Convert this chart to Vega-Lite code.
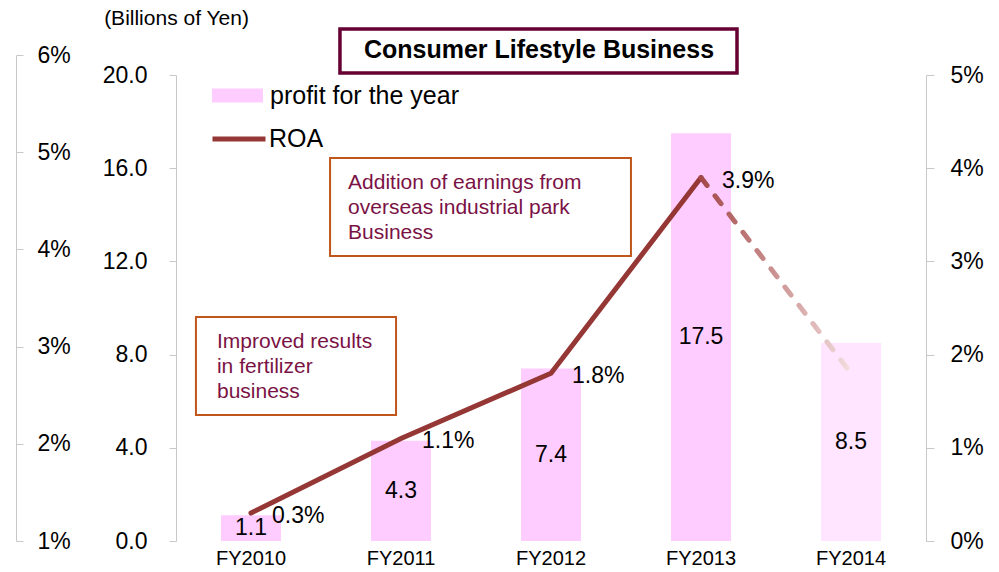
{
  "$schema": "https://vega.github.io/schema/vega-lite/v6.json",
  "width": 750,
  "height": 466,
  "autosize": {"type": "none"},
  "padding": {"left": 176, "top": 75, "right": 73, "bottom": 31},
  "background": "white",
  "config": {
    "font": "Liberation Sans",
    "view": {"stroke": null},
    "axis": {"grid": false, "labelFont": "Liberation Sans", "titleFont": "Liberation Sans", "labelColor": "#000", "titleColor": "#000"},
    "legend": {"labelFont": "Liberation Sans", "labelColor": "#000", "labelLimit": 500},
    "text": {"font": "Liberation Sans"}
  },
  "datasets": {
    "main": [
      {"Year": "FY2010", "profit": 1.1, "ROA": 0.003},
      {"Year": "FY2011", "profit": 4.3, "ROA": 0.011},
      {"Year": "FY2012", "profit": 7.4, "ROA": 0.018},
      {"Year": "FY2013", "profit": 17.5, "ROA": 0.039},
      {"Year": "FY2014", "profit": 8.5, "ROA": 0.018}
    ],
    "boxes": [
      {"name": "overseas", "xa": 1.027, "xb": 3.033, "ya": 16.44, "yb": 12.23},
      {"name": "fertilizer", "xa": 0.133, "xb": 1.467, "ya": 9.61, "yb": 5.41}
    ],
    "notes": [
      {"name": "overseas", "xa": 1.147, "ym": 15.36, "text": ["Addition of earnings from", "overseas industrial park", "Business"]},
      {"name": "fertilizer", "xa": 0.273, "ym": 8.54, "text": ["Improved results", "in fertilizer", "business"]}
    ],
    "heading": [
      {"xa": 1.093, "xb": 3.74, "ya": 21.97, "yb": 20.09, "xm": 2.42, "ym": 21.07, "text": "Consumer Lifestyle Business"}
    ]
  },
  "layer": [
    {
      "data": {"name": "main"},
      "mark": {"type": "bar"},
      "encoding": {
        "x": {"field": "Year", "type": "nominal",
          "scale": {"type": "band", "domain": ["FY2010", "FY2011", "FY2012", "FY2013", "FY2014"], "paddingInner": 0.6, "paddingOuter": 0.3},
          "axis": {"orient": "bottom", "title": null, "labelAngle": 0, "labelFontSize": 20, "labelPadding": 7, "ticks": false, "domain": false}},
        "y": {"field": "profit", "type": "quantitative",
          "scale": {"domain": [0, 20], "nice": false},
          "axis": {"orient": "left", "values": [0, 4, 8, 12, 16, 20], "format": ".1f", "labelFontSize": 23, "labelPadding": 22, "tickSize": 7, "tickColor": "#c8c8c8", "domainColor": "#c8c8c8",
            "title": "(Billions of Yen)", "titleAngle": 0, "titleX": 0, "titleY": -57, "titleAlign": "center", "titleBaseline": "middle", "titleFontSize": 21, "titleFontWeight": "normal"}},
        "fill": {"datum": "profit for the year", "type": "nominal", "scale": {"range": ["#ffccff"]},
          "legend": {"title": null, "orient": "none", "legendX": 36, "legendY": -5, "padding": 0, "symbolType": "M-1,-0.275H1V0.275H-1Z", "symbolSize": 2601, "symbolStrokeWidth": 0, "labelFontSize": 25, "labelOffset": 7}},
        "opacity": {"condition": {"test": "datum.Year === 'FY2014'", "value": 0.5}, "value": 1}
      }
    },
    {
      "data": {"name": "main"},
      "mark": {"type": "text", "fontSize": 23, "baseline": "middle", "align": "center", "color": "#000"},
      "encoding": {
        "x": {"field": "Year", "type": "nominal", "scale": {"type": "point", "padding": 0.5, "domain": ["FY2010", "FY2011", "FY2012", "FY2013", "FY2014"]}, "axis": null},
        "y": {"field": "profit", "type": "quantitative", "scale": {"domain": [0, 40], "nice": false}, "axis": null},
        "text": {"field": "profit", "type": "quantitative", "format": ".1f"}
      }
    },
    {
      "data": {"name": "main"},
      "transform": [{"filter": "datum.Year !== 'FY2014'"}],
      "mark": {"type": "line", "strokeWidth": 5, "strokeCap": "round", "strokeJoin": "miter"},
      "encoding": {
        "x": {"field": "Year", "type": "nominal", "scale": {"type": "point", "padding": 0.5, "domain": ["FY2010", "FY2011", "FY2012", "FY2013", "FY2014"]}, "axis": null},
        "y": {"field": "ROA", "type": "quantitative",
          "scale": {"domain": [0, 0.05], "nice": false},
          "axis": {"orient": "right", "values": [0, 0.01, 0.02, 0.03, 0.04, 0.05], "format": ".0%", "labelFontSize": 23, "labelPadding": 16, "tickSize": 8, "tickColor": "#c8c8c8", "domainColor": "#c8c8c8", "title": null}},
        "stroke": {"datum": "ROA", "type": "nominal", "scale": {"range": ["#953735"]},
          "legend": {"title": null, "orient": "none", "legendX": 34, "legendY": 35, "padding": 0, "symbolType": "stroke", "symbolSize": 2809, "symbolStrokeWidth": 5, "labelFontSize": 25, "labelOffset": 1}}
      }
    },
    {
      "data": {"name": "main"},
      "transform": [{"filter": "datum.Year === 'FY2013' || datum.Year === 'FY2014'"}],
      "mark": {"type": "line", "strokeWidth": 5, "strokeCap": "round", "strokeDash": [10, 13],
        "color": {"gradient": "linear", "x1": 0, "y1": 0, "x2": 1, "y2": 0, "stops": [{"offset": 0, "color": "#a44848"}, {"offset": 1, "color": "#f3dede"}]}},
      "encoding": {
        "x": {"field": "Year", "type": "nominal", "scale": {"type": "point", "padding": 0.5, "domain": ["FY2010", "FY2011", "FY2012", "FY2013", "FY2014"]}, "axis": null},
        "y": {"field": "ROA", "type": "quantitative", "scale": {"domain": [0, 0.05], "nice": false}, "axis": null}
      }
    },
    {
      "data": {"name": "main"},
      "transform": [{"filter": "datum.Year !== 'FY2014'"}],
      "mark": {"type": "text", "fontSize": 23, "baseline": "middle", "align": "left", "dx": 21, "dy": 3, "color": "#000"},
      "encoding": {
        "x": {"field": "Year", "type": "nominal", "scale": {"type": "point", "padding": 0.5, "domain": ["FY2010", "FY2011", "FY2012", "FY2013", "FY2014"]}, "axis": null},
        "y": {"field": "ROA", "type": "quantitative", "scale": {"domain": [0, 0.05], "nice": false}, "axis": null},
        "text": {"field": "ROA", "type": "quantitative", "format": ".1%"}
      }
    },
    {
      "data": {"name": "main"},
      "mark": {"type": "point", "opacity": 0},
      "encoding": {
        "x": {"field": "Year", "type": "nominal", "scale": {"type": "point", "padding": 0.5, "domain": ["FY2010", "FY2011", "FY2012", "FY2013", "FY2014"]}, "axis": null},
        "y": {"field": "ROA", "type": "quantitative",
          "scale": {"domain": [0.01, 0.06], "range": [466, -20], "nice": false, "zero": false},
          "axis": {"orient": "right", "offset": -910, "values": [0.01, 0.02, 0.03, 0.04, 0.05, 0.06], "format": ".0%", "labelFontSize": 23, "labelPadding": 14, "tickSize": 7, "tickColor": "#c8c8c8", "domainColor": "#c8c8c8", "title": null}}
      }
    },
    {
      "data": {"name": "boxes"},
      "mark": {"type": "rect", "fill": "white", "stroke": "#c0561c", "strokeWidth": 2},
      "encoding": {
        "x": {"field": "xa", "type": "quantitative", "scale": {"domain": [0, 5], "nice": false, "zero": false}, "axis": null},
        "x2": {"field": "xb"},
        "y": {"field": "ya", "type": "quantitative", "scale": {"domain": [0, 20], "nice": false}, "axis": null},
        "y2": {"field": "yb"}
      }
    },
    {
      "data": {"name": "heading"},
      "mark": {"type": "rect", "fill": "white", "stroke": "#660033", "strokeWidth": 3.5},
      "encoding": {
        "x": {"field": "xa", "type": "quantitative", "scale": {"domain": [0, 5], "nice": false, "zero": false}, "axis": null},
        "x2": {"field": "xb"},
        "y": {"field": "ya", "type": "quantitative", "scale": {"domain": [0, 20], "nice": false}, "axis": null},
        "y2": {"field": "yb"}
      }
    },
    {
      "data": {"name": "notes"},
      "mark": {"type": "text", "fontSize": 21, "lineHeight": 25, "align": "left", "baseline": "middle", "color": "#7b1245"},
      "encoding": {
        "x": {"field": "xa", "type": "quantitative", "scale": {"domain": [0, 5], "nice": false, "zero": false}, "axis": null},
        "y": {"field": "ym", "type": "quantitative", "scale": {"domain": [0, 20], "nice": false}, "axis": null},
        "text": {"field": "text"}
      }
    },
    {
      "data": {"name": "heading"},
      "mark": {"type": "text", "fontSize": 25, "fontWeight": "bold", "align": "center", "baseline": "middle", "color": "#000"},
      "encoding": {
        "x": {"field": "xm", "type": "quantitative", "scale": {"domain": [0, 5], "nice": false, "zero": false}, "axis": null},
        "y": {"field": "ym", "type": "quantitative", "scale": {"domain": [0, 20], "nice": false}, "axis": null},
        "text": {"field": "text"}
      }
    }
  ],
  "resolve": {"scale": {"x": "independent", "y": "independent", "fill": "independent", "stroke": "independent"}}
}
